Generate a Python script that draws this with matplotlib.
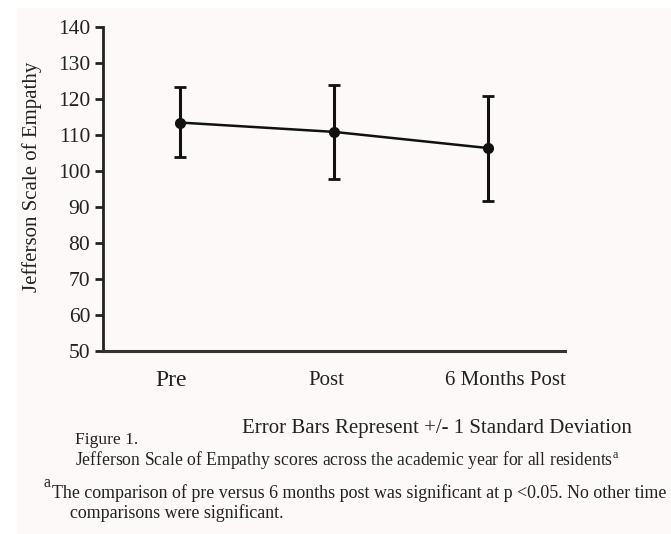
import numpy as np
import matplotlib
matplotlib.use("Agg")
import matplotlib.pyplot as plt
from matplotlib.patches import Rectangle

# values
labels = ["Pre", "Post", "6 Months Post"]
means = [113.5, 110.9, 106.4]
err_low = [9.7, 13.0, 14.6]
err_high = [9.8, 13.0, 14.5]
y_ticks = [50, 60, 70, 80, 90, 100, 110, 120, 130, 140]

plt.rcParams["font.family"] = ["Liberation Serif", "DejaVu Serif"]

fig = plt.figure(figsize=(6.71, 5.34), dpi=100, facecolor="white")
# faint tinted page behind the figure
fig.patches.append(Rectangle((17 / 671, 0), 1, 1 - 8 / 534, transform=fig.transFigure,
                             facecolor="#fdf9f8", edgecolor="none", zorder=-10))

ax = fig.add_axes([0.153, 0.343, 0.689, 0.606])
ax.patch.set_alpha(0)

x = np.arange(len(labels))
ax.errorbar(x, means, yerr=[err_low, err_high], color="#111111", lw=1.8,
            marker="o", ms=7, capsize=4.5, capthick=2, elinewidth=2.2)

ax.set_xlim(-0.5, 2.5)
ax.set_ylim(50, 140)
ax.set_yticks(y_ticks)
ax.set_yticklabels([str(t) for t in y_ticks], fontsize=15.5, color="#222222")
ax.set_xticks([])
ax.tick_params(axis="y", length=6, width=2, pad=3, color="#222222")
ax.set_ylabel("Jefferson Scale of Empathy", fontsize=15, color="#222222")
ax.yaxis.set_label_coords(-0.132, 0.537)

# category labels, nudged like in the original
trans = ax.get_xaxis_transform()
label_dx = [-9, -7, 18]
label_fs = [17, 15, 15]
for xi, lab, dx, fs in zip(x, labels, label_dx, label_fs):
    ax.annotate(lab, xy=(xi, 0), xycoords=trans, xytext=(dx * 0.72, -30 * 0.72),
                textcoords="offset points", ha="center", va="center",
                fontsize=fs, color="#222222", annotation_clip=False)

for s in ["top", "right"]:
    ax.spines[s].set_visible(False)
ax.spines["left"].set_linewidth(2)
ax.spines["bottom"].set_linewidth(2.2)
ax.spines["left"].set_color("#222222")
ax.spines["bottom"].set_color("#333333")

tc = "#222222"
fig.text(242 / 671, 1 - 428 / 534, "Error Bars Represent +/- 1 Standard Deviation",
         fontsize=15, color=tc, va="center")
fig.text(75 / 671, 1 - 440 / 534, "Figure 1.", fontsize=12.6, color=tc, va="center")
fig.text(75 / 671, 1 - 460 / 534,
         "Jefferson Scale of Empathy scores across the academic year for all residents$^{\\mathregular{a}}$",
         fontsize=12.7, color=tc, va="center")
fig.text(44 / 671, 1 - 483 / 534, "a", fontsize=11.5, color=tc, va="center")
fig.text(52 / 671, 1 - 493 / 534,
         "The comparison of pre versus 6 months post was significant at p <0.05. No other time",
         fontsize=12.9, color=tc, va="center")
fig.text(70 / 671, 1 - 513 / 534, "comparisons were significant.",
         fontsize=12.9, color=tc, va="center")

fig.savefig("out.png", dpi=100, facecolor=fig.get_facecolor())
